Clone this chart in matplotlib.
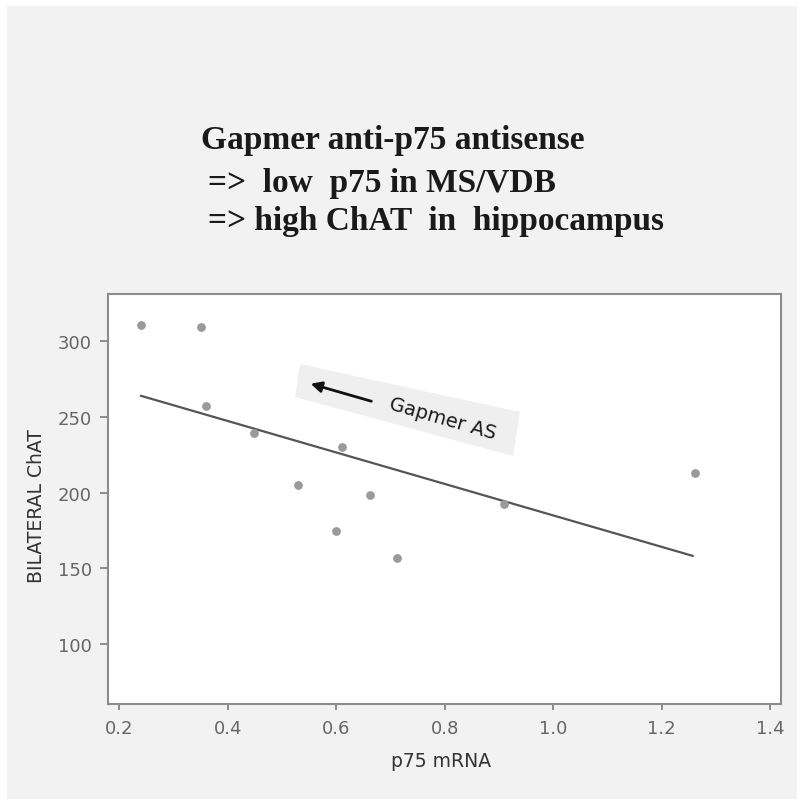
import numpy as np
import matplotlib
matplotlib.use('Agg')
import matplotlib.pyplot as plt
from matplotlib.patches import Rectangle, Polygon, FancyArrowPatch

# data
p75_mrna = [0.240, 0.351, 0.359, 0.449, 0.530, 0.611, 0.662, 0.600, 0.712, 0.909, 1.261]
bilateral_chat = [310.5, 308.8, 257.2, 239.2, 204.9, 230.1, 198.3, 174.4, 156.8, 192.4, 212.8]
fit_x = [0.24, 1.257]
fit_y = [263.7, 158.3]
xticks = [0.2, 0.4, 0.6, 0.8, 1.0, 1.2, 1.4]
yticks = [100, 150, 200, 250, 300]
title_lines = ['Gapmer anti-p75 antisense',
               '=>  low  p75 in MS/VDB',
               '=> high ChAT  in  hippocampus']

W, H = 798, 804
fig = plt.figure(figsize=(W/100, H/100), dpi=100, facecolor='white')

def fx(px): return px / W
def fy(py): return 1 - py / H

# grey panel behind everything
fig.patches.append(Rectangle((fx(7), fy(800)), fx(790), 793/H, transform=fig.transFigure,
                             facecolor='#f2f2f2', edgecolor='none', zorder=-5))

# title block
title_x = [201, 208, 208]
title_y = [149, 192, 230]
for txt, tx, ty in zip(title_lines, title_x, title_y):
    fig.text(fx(tx), fy(ty), txt, family='Liberation Serif', weight='bold', fontsize=24,
             color='#1a1a1a', va='baseline', ha='left')

ax = fig.add_axes([fx(108), fy(705), fx(781) - fx(108), fy(295) - fy(705)], zorder=1)
ax.set_facecolor('white')
ax.set_xlim(0.179, 1.420)
ax.set_ylim(60.7, 330.8)

ax.plot(fit_x, fit_y, color='#555555', lw=1.6, zorder=3)
ax.plot(p75_mrna, bilateral_chat, 'o', color='#9a9a9a', markersize=6.3, markeredgewidth=0, zorder=4)

ax.set_xticks(xticks)
ax.set_xticklabels(['%.1f' % v for v in xticks])
ax.set_yticks(yticks)
for s in ax.spines.values():
    s.set_color('#8c8c8c')
    s.set_linewidth(1.5)
ax.tick_params(axis='both', colors='#7a7a7a', labelcolor='#666666', labelsize=13, width=1.2)
ax.tick_params(axis='y', length=5.5, pad=6)
ax.tick_params(axis='x', length=4.5, pad=6)
for lab in ax.get_xticklabels() + ax.get_yticklabels():
    lab.set_family('DejaVu Sans')

ax.set_xlabel('p75 mRNA', fontsize=13.5, color='#333333')
ax.set_ylabel('BILATERAL ChAT', fontsize=13.5, color='#333333')
ax.xaxis.set_label_coords(0.495, -0.139)
ax.yaxis.set_label_coords(-0.1055, 0.485)
ax.xaxis.label.set_va('center')
ax.yaxis.label.set_va('center')

# rotated "Gapmer AS" note
box = [(300, 365), (520, 413), (513, 457), (295, 398)]
fig.patches.append(Polygon([(fx(a), fy(b)) for a, b in box], closed=True, transform=fig.transFigure,
                           facecolor='#efefef', edgecolor='none', zorder=5))
fig.add_artist(FancyArrowPatch((fx(374), fy(403)), (fx(308), fy(384)),
                               transform=fig.transFigure, arrowstyle='-|>',
                               mutation_scale=16, color='#111111', lw=2, zorder=6))
fig.text(fx(443), fy(419), 'Gapmer AS', rotation=-16, rotation_mode='anchor', ha='center', va='center',
         fontsize=14, color='#1a1a1a', family='DejaVu Sans', zorder=7)

fig.savefig('out.png', dpi=100, facecolor=fig.get_facecolor())
